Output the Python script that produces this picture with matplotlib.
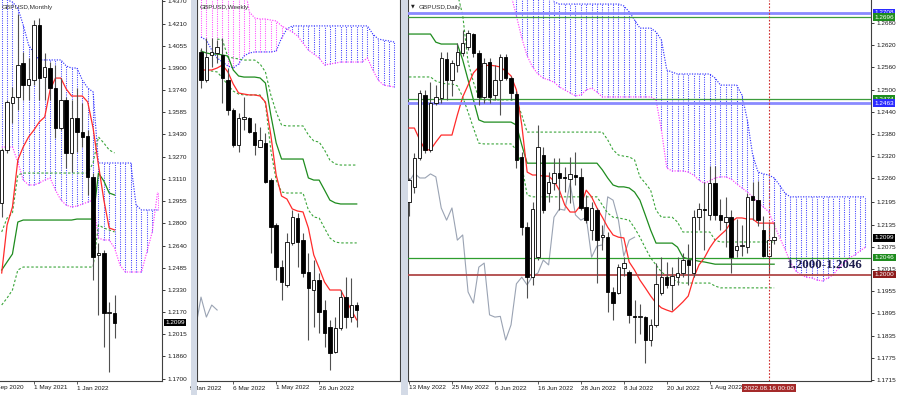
import numpy as np
import matplotlib
matplotlib.use("Agg")
import matplotlib.pyplot as plt
import matplotlib.transforms as mtransforms
from matplotlib.patches import Rectangle

plt.rcParams['font.family'] = ['Liberation Sans', 'DejaVu Sans']
nan = float('nan')

# ================= MONTHLY (first bar = Nov 2020) =================
mon_open  = [1.2943, 1.3318, 1.3650, 1.3692, 1.3932, 1.3777, 1.3812, 1.4201, 1.3834, 1.3897, 1.3756,
             1.3473, 1.3671, 1.3297, 1.3544, 1.3445, 1.3417, 1.3127, 1.2576, 1.2590, 1.2166, 1.2166]
mon_high  = [1.3330, 1.3671, 1.3763, 1.4280, 1.4010, 1.3968, 1.4236, 1.4250, 1.4003, 1.3940, 1.3918,
             1.3826, 1.3692, 1.3671, 1.3756, 1.3650, 1.3459, 1.3155, 1.2661, 1.2611, 1.2244, 1.2293]
mon_low   = [1.2845, 1.3297, 1.3508, 1.3600, 1.3671, 1.3671, 1.3777, 1.3671, 1.3671, 1.3671, 1.3403,
             1.3459, 1.3191, 1.3162, 1.3304, 1.3339, 1.3000, 1.2399, 1.2152, 1.1926, 1.1749, 1.1990]
mon_close = [1.3318, 1.3657, 1.3692, 1.3918, 1.3777, 1.3819, 1.4201, 1.3826, 1.3904, 1.3756, 1.3473,
             1.3671, 1.3297, 1.3544, 1.3445, 1.3410, 1.3127, 1.2562, 1.2590, 1.2166, 1.2170, 1.2099]
mon_tenkan = [1.2449, 1.2788, 1.2915, 1.3247, 1.3339, 1.3410, 1.3459, 1.3516, 1.3551, 1.3742, 1.3826,
              1.3826, 1.3749, 1.3699, 1.3699, 1.3699, 1.3657, 1.3473, 1.3212, 1.2965, 1.2767, 1.2753]
mon_kijun = [1.2470, 1.2527, 1.2583, 1.2809, 1.2823, 1.2823, 1.2823, 1.2823, 1.2823, 1.2823, 1.2823,
             1.2823, 1.2823, 1.2823, 1.2830, 1.2830, 1.2830, 1.2830, 1.3155, 1.3099, 1.3014, 1.3000]
mon_dash_up = [1.2739, 1.2837, 1.2873, 1.3141] + [1.3155] * 13 + [1.3226, 1.3410, 1.3367, 1.3318, 1.3297]
mon_dash_lo = [1.2223, 1.2272, 1.2329, 1.2470] + [1.2491] * 14 + [1.2788, 1.2767, 1.2753, 1.2739]
mon_span_a = ([1.4392, 1.4378, 1.4363, 1.4321, 1.4201, 1.4060, 1.4003, 1.3954, 1.3954, 1.3954, 1.3954,
               1.3954, 1.3911, 1.3897, 1.3897, 1.3812, 1.3756, 1.3728] + [1.3226] * 7 + [1.2929] + [1.2894] * 4)
mon_span_b = [1.3339, 1.3339, 1.3339, 1.3233, 1.3106, 1.3071, 1.3071, 1.3085, 1.3106, 1.3120, 1.3035,
              1.2965, 1.2929, 1.2915, 1.2922, 1.2936, 1.2950, 1.2965, 1.2696, 1.2682, 1.2682, 1.2625,
              1.2505, 1.2456, 1.2456, 1.2456, 1.2456, 1.2597, 1.2739, 1.3021]
mon_yticks = [1.4370, 1.4210, 1.4055, 1.3900, 1.3740, 1.3585, 1.3430, 1.3270, 1.3110, 1.2955,
              1.2800, 1.2640, 1.2485, 1.2330, 1.2170, 1.2015, 1.1860, 1.1700]
mon_xlabels = ['1 Sep 2020', '1 May 2021', '1 Jan 2022']
mon_xlabel_pos = [-2, 6, 14]

# ================= WEEKLY (first bar = week of 23 Jan 2022) =================
wk_open  = [1.3557, 1.3398, 1.3540, 1.3551, 1.3540, 1.3398, 1.3229, 1.3031, 1.3178, 1.3184, 1.3105,
            1.3020, 1.3042, 1.2833, 1.2579, 1.2342, 1.2240, 1.2477, 1.2619, 1.2494, 1.2314, 1.2212,
            1.2268, 1.2099, 1.2003, 1.1862, 1.1997, 1.2172, 1.2059, 1.2127]
wk_high  = [1.3579, 1.3636, 1.3636, 1.3624, 1.3636, 1.3466, 1.3240, 1.3212, 1.3302, 1.3190, 1.3156,
            1.3133, 1.3099, 1.2845, 1.2590, 1.2381, 1.2534, 1.2664, 1.2647, 1.2534, 1.2421, 1.2381,
            1.2308, 1.2155, 1.2043, 1.2059, 1.2212, 1.2285, 1.2280, 1.2144]
wk_low   = [1.3353, 1.3387, 1.3472, 1.3494, 1.3268, 1.3201, 1.3020, 1.2992, 1.3116, 1.3099, 1.2975,
            1.3020, 1.2816, 1.2421, 1.2268, 1.2155, 1.2229, 1.2466, 1.2342, 1.2285, 1.1930, 1.2003,
            1.1969, 1.1890, 1.1760, 1.1856, 1.1986, 1.1997, 1.2031, 1.2003]
wk_close = [1.3398, 1.3528, 1.3557, 1.3585, 1.3410, 1.3229, 1.3031, 1.3184, 1.3189, 1.3105, 1.3031,
            1.3059, 1.2822, 1.2568, 1.2342, 1.2257, 1.2483, 1.2624, 1.2483, 1.2308, 1.2223, 1.2268,
            1.2088, 1.1969, 1.1856, 1.1997, 1.2172, 1.2059, 1.2127, 1.2099]
wk_tenkan = [1.3455, 1.3455, 1.3455, 1.3466, 1.3483, 1.3444, 1.3376, 1.3325, 1.3319, 1.3314, 1.3314,
             1.3308, 1.3274, 1.3088, 1.2862, 1.2743, 1.2726, 1.2670, 1.2658, 1.2653, 1.2562, 1.2410,
             1.2336, 1.2257, 1.2212, 1.2212, 1.2212, 1.2155, 1.2099, 1.2043]
wk_kijun = [1.3562, 1.3551, 1.3545, 1.3545, 1.3540, 1.3534, 1.3455, 1.3421, 1.3415, 1.3415, 1.3415,
            1.3410, 1.3381, 1.3201, 1.3043, 1.2952, 1.2952, 1.2952, 1.2952, 1.2952, 1.2845, 1.2833,
            1.2833, 1.2777, 1.2720, 1.2704, 1.2698, 1.2698, 1.2698, 1.2698]
wk_dash_up = [nan, nan, nan, 1.3630, 1.3624, 1.3528, 1.3523, 1.3517, 1.3511, 1.3511, 1.3511, 1.3489,
              1.3444, 1.3314, 1.3218, 1.3144, 1.3139, 1.3139, 1.3139, 1.3139, 1.3088, 1.3054, 1.3048,
              1.3003, 1.2946, 1.2924, 1.2918, 1.2918, 1.2918, 1.2918]
wk_dash_lo = [nan, 1.3449, 1.3449, 1.3444, 1.3410, 1.3370, 1.3336, 1.3319, 1.3314, 1.3314, 1.3314,
              1.3314, 1.3268, 1.3003, 1.2833, 1.2766, 1.2760, 1.2760, 1.2760, 1.2760, 1.2664, 1.2624,
              1.2619, 1.2562, 1.2506, 1.2483, 1.2478, 1.2478, 1.2478, 1.2478]
wk_span_a = ([1.3641, 1.3624, 1.3568, 1.3523, 1.3500, 1.3478, 1.3466, 1.3489, 1.3534, 1.3551, 1.3557,
              1.3557, 1.3557, 1.3557, 1.3562, 1.3636, 1.3687, 1.3704] + [1.3704] * 14
             + [1.3658, 1.3630, 1.3624, 1.3619, 1.3613])
wk_span_b = ([1.3950] * 9 + [1.3783, 1.3749, 1.3743, 1.3743, 1.3737, 1.3732, 1.3704, 1.3687, 1.3670,
              1.3647, 1.3607, 1.3568, 1.3545, 1.3523, 1.3483, 1.3489, 1.3494] + [1.3500] * 5
             + [1.3523, 1.3455, 1.3398, 1.3370, 1.3364, 1.3359])
wk_xlabels = ['9 Jan 2022', '6 Mar 2022', '1 May 2022', '26 Jun 2022']
wk_xlabel_pos = [-2, 6, 14, 22]

# ================= DAILY (first bar = 13 May 2022) =================
d_open  = [1.2196, 1.2237, 1.2315, 1.2485, 1.2337, 1.2464, 1.2477, 1.2583, 1.2526, 1.2566, 1.2599,
           1.2615, 1.2650, 1.2599, 1.2480, 1.2575, 1.2485, 1.2526, 1.2588, 1.2531, 1.2488, 1.2318,
           1.2128, 1.1993, 1.2047, 1.2323, 1.2220, 1.2247, 1.2274, 1.2263, 1.2258, 1.2269, 1.2264,
           1.2182, 1.2120, 1.2174, 1.2101, 1.2101, 1.1953, 1.1950, 1.2018, 1.2007, 1.1887, 1.1885,
           1.1885, 1.1823, 1.1864, 1.1950, 1.1993, 1.1972, 1.1993, 1.2004, 1.2039, 1.2004, 1.2155,
           1.2177, 1.2161, 1.2247, 1.2161, 1.2142, 1.2155, 1.2066, 1.2077, 1.2074, 1.2212, 1.2201,
           1.2120, 1.2050, 1.2093]
d_high  = [1.2262, 1.2328, 1.2499, 1.2499, 1.2520, 1.2512, 1.2601, 1.2601, 1.2580, 1.2625, 1.2661,
           1.2661, 1.2653, 1.2607, 1.2585, 1.2585, 1.2566, 1.2596, 1.2596, 1.2537, 1.2496, 1.2331,
           1.2142, 1.2196, 1.2404, 1.2345, 1.2277, 1.2315, 1.2315, 1.2290, 1.2318, 1.2331, 1.2288,
           1.2215, 1.2196, 1.2180, 1.2134, 1.2115, 1.1966, 1.2028, 1.2047, 1.2012, 1.1931, 1.1920,
           1.1888, 1.1880, 1.2031, 1.2047, 1.2034, 1.2020, 1.2047, 1.2058, 1.2082, 1.2174, 1.2193,
           1.2250, 1.2293, 1.2293, 1.2204, 1.2210, 1.2174, 1.2150, 1.2134, 1.2220, 1.2250, 1.2252,
           1.2158, 1.2142, 1.2142]
d_low   = [1.2158, 1.2220, 1.2310, 1.2328, 1.2331, 1.2458, 1.2464, 1.2472, 1.2483, 1.2547, 1.2590,
           1.2607, 1.2588, 1.2458, 1.2464, 1.2464, 1.2472, 1.2431, 1.2526, 1.2472, 1.2288, 1.2107,
           1.1937, 1.1972, 1.2039, 1.2166, 1.2196, 1.2228, 1.2174, 1.2223, 1.2193, 1.2242, 1.2174,
           1.2139, 1.2093, 1.1977, 1.2066, 1.1899, 1.1877, 1.1947, 1.1996, 1.1869, 1.1815, 1.1839,
           1.1761, 1.1807, 1.1858, 1.1945, 1.1964, 1.1904, 1.1972, 1.1993, 1.1972, 1.1993, 1.2120,
           1.2066, 1.2147, 1.2147, 1.2120, 1.2074, 1.2004, 1.2047, 1.2050, 1.2058, 1.2147, 1.2130,
           1.2047, 1.2004, 1.2082]
d_close = [1.2256, 1.2315, 1.2491, 1.2337, 1.2464, 1.2480, 1.2585, 1.2526, 1.2572, 1.2601, 1.2625,
           1.2653, 1.2599, 1.2480, 1.2572, 1.2480, 1.2526, 1.2588, 1.2531, 1.2491, 1.2310, 1.2128,
           1.1993, 1.2177, 1.2345, 1.2174, 1.2250, 1.2274, 1.2261, 1.2261, 1.2272, 1.2264, 1.2180,
           1.2147, 1.2180, 1.2093, 1.2107, 1.1953, 1.1923, 1.2020, 1.2031, 1.1891, 1.1885, 1.1887,
           1.1823, 1.1864, 1.1975, 1.1993, 1.1972, 1.1996, 1.2004, 1.2039, 1.2026, 1.2155, 1.2177,
           1.2174, 1.2247, 1.2161, 1.2147, 1.2155, 1.2047, 1.2077, 1.2080, 1.2210, 1.2201, 1.2147,
           1.2050, 1.2093, 1.2101]
d_tenkan = [1.2396, 1.2396, 1.2364, 1.2337, 1.2337, 1.2358, 1.2377, 1.2377, 1.2377, 1.2431,
            1.2480, 1.2512, 1.2545, 1.2561, 1.2564, 1.2566, 1.2564, 1.2561, 1.2550, 1.2537,
            1.2499, 1.2404, 1.2277, 1.2269, 1.2269, 1.2266, 1.2266, 1.2253, 1.2228, 1.2188,
            1.2169, 1.2169, 1.2188, 1.2228, 1.2210, 1.2180, 1.2155, 1.2128, 1.2107, 1.2101,
            1.2099, 1.2034, 1.2012, 1.1985, 1.1964, 1.1942, 1.1923, 1.1910, 1.1904, 1.1899,
            1.1912, 1.1926, 1.1942, 1.1991, 1.2026, 1.2045, 1.2072, 1.2093, 1.2107, 1.2120,
            1.2142, 1.2153, 1.2153, 1.2150, 1.2150, 1.2139, 1.2139, 1.2139, 1.2139]
d_kijun = ([1.2650] * 5 + [1.2628] + [1.2623] * 4 + [1.2580, 1.2526, 1.2472, 1.2418] + [1.2412] * 6
           + [1.2404, 1.2350, 1.2301] + [1.2301] * 13
           + [1.2283, 1.2261, 1.2242, 1.2237, 1.2237, 1.2234, 1.2223, 1.2201, 1.2161, 1.2120, 1.2085]
           + [1.2085] * 3 + [1.2074, 1.2047, 1.2042, 1.2039, 1.2036, 1.2034, 1.2031] + [1.2028] * 12)
d_dash_lo = ([1.2534] * 5 + [1.2523, 1.2518, 1.2515, 1.2515, 1.2510, 1.2480, 1.2439, 1.2396, 1.2355]
             + [1.2353] * 6 + [1.2337, 1.2296, 1.2215] + [1.2210] * 13
             + [1.2188, 1.2166, 1.2155, 1.2153, 1.2150, 1.2147, 1.2126, 1.2101, 1.2072, 1.2045,
                1.2026, 1.2007, 1.1996, 1.1988, 1.1980] + [1.1977] * 6 + [1.1969] + [1.1964] * 11)
d_dash_up = ([nan] * 9 + [1.2760, 1.2701, 1.2574, 1.2520, 1.2477] + [1.2472] * 7 + [1.2431, 1.2385]
             + [1.2385] * 14 + [1.2364, 1.2337, 1.2323, 1.2320, 1.2318, 1.2310, 1.2264, 1.2247,
                                1.2228, 1.2174] + [1.2155] * 3 + [1.2142] + [1.2115] * 6 + [1.2093]
             + [1.2088] * 11)
d_span_a = ([1.2790] * 27 + [1.2737] + [1.2731] * 12 + [1.2726, 1.2710, 1.2688] + [1.2666] * 3
            + [1.2656, 1.2634, 1.2553, 1.2547] + [1.2542] * 7 + [1.2531] + [1.2512] * 4
            + [1.2485, 1.2418, 1.2323, 1.2277, 1.2272, 1.2269, 1.2261, 1.2242, 1.2220] + [1.2210] * 15)
d_span_b = ([1.2780] * 19 + [1.2756, 1.2699, 1.2639, 1.2591, 1.2561, 1.2542, 1.2531, 1.2526, 1.2520,
                             1.2507, 1.2499, 1.2491, 1.2483, 1.2485, 1.2499, 1.2504, 1.2493]
            + [1.2480] * 10 + [1.2472, 1.2391, 1.2288, 1.2280, 1.2280, 1.2280, 1.2277, 1.2269, 1.2255,
                               1.2247, 1.2253, 1.2261, 1.2264, 1.2264, 1.2258, 1.2245, 1.2234, 1.2223,
                               1.2210, 1.2193, 1.2183, 1.2169, 1.2134, 1.2101, 1.2069, 1.2034, 1.2010,
                               1.1999, 1.1993, 1.1991, 1.1985, 1.1983, 1.1991, 1.1999, 1.2018, 1.2031,
                               1.2045, 1.2053, 1.2064, 1.2074])
d_yticks = [1.2680, 1.2620, 1.2560, 1.2500, 1.2440, 1.2380, 1.2320, 1.2260, 1.2195, 1.2135, 1.2075,
            1.2015, 1.1955, 1.1895, 1.1835, 1.1775, 1.1715]
d_xlabels = ['13 May 2022', '25 May 2022', '6 Jun 2022', '16 Jun 2022', '28 Jun 2022', '8 Jul 2022',
             '20 Jul 2022', '1 Aug 2022']
d_xlabel_pos = [0, 8, 16, 24, 32, 40, 48, 56]
d_cursor_pos = 67
d_cursor_label = '2022.08.16 00:00'
level_prices = [1.2708, 1.2696, 1.2474, 1.2463, 1.2046, 1.2000]
level_colors = ['#8a8aff', '#3c9c3c', '#3c9c3c', '#8a8aff', '#2e9e2e', '#b04848']
level_widths = [2.0, 0.9, 0.9, 2.0, 0.9, 1.3]
tag_prices = [1.2708, 1.2696, 1.2474, 1.2463, 1.2099, 1.2046, 1.2000]
tag_colors = ['#2b2bff', '#1e8c1e', '#1e8c1e', '#2b2bff', '#000000', '#1e8c1e', '#8e1c1c']
zone_text = '1.2000-1.2046'

# ================= styles =================
C_TENKAN = '#ff2b2b'
C_KIJUN = '#1e8c1e'
C_DASH = '#3aa53a'
C_SPAN_A = '#3434ff'
C_SPAN_B = '#ff3cff'
C_UP = '#4040ff'
C_DN = '#ff4cff'
FS = 4.6

FW, FH, PB = 900.0, 395.0, 381.0
fig = plt.figure(figsize=(9.0, 3.95), dpi=100)
fig.patch.set_facecolor('white')


def rect(x0, x1):
    return [x0 / FW, 1 - PB / FH, (x1 - x0) / FW, PB / FH]


axM = fig.add_axes(rect(0, 162))
axW = fig.add_axes(rect(197, 400))
axD = fig.add_axes(rect(408, 871))


def candles(ax, o, h, l, c, w=0.64):
    o, h, l, c = map(np.asarray, (o, h, l, c))
    x = np.arange(len(o))
    ax.vlines(x, l, h, colors='#505050', lw=0.8, zorder=4)
    up = c >= o
    bottom = np.minimum(o, c)
    height = np.maximum(np.abs(c - o), 1e-6)
    ax.bar(x[up], height[up], w, bottom[up], facecolor='white', edgecolor='black', lw=0.6, zorder=5)
    ax.bar(x[~up], height[~up], w, bottom[~up], facecolor='black', edgecolor='black', lw=0.6, zorder=5)


def cloud(ax, a, b):
    a = np.asarray(a)
    b = np.asarray(b)
    x = np.arange(len(a))
    cols = [C_UP if aa >= bb else C_DN for aa, bb in zip(a, b)]
    ax.vlines(x, np.minimum(a, b), np.maximum(a, b), colors=cols, linestyles=(0, (1.0, 1.2)),
              lw=0.75, zorder=1)
    ax.plot(x, a, color=C_SPAN_A, ls=(0, (1.0, 1.2)), lw=0.85, zorder=1.5)
    ax.plot(x, b, color=C_SPAN_B, ls=(0, (1.0, 1.2)), lw=0.85, zorder=1.5)


def ichi_lines(ax, tenkan, kijun, dash_up, dash_lo):
    n = len(tenkan)
    x = np.arange(n)
    ax.plot(x, dash_up, color=C_DASH, ls=(0, (2.2, 1.8)), lw=0.8, zorder=3)
    ax.plot(x, dash_lo, color=C_DASH, ls=(0, (2.2, 1.8)), lw=0.8, zorder=3)
    ax.plot(x, kijun, color=C_KIJUN, lw=0.9, zorder=3)
    ax.plot(x, tenkan, color=C_TENKAN, lw=0.9, zorder=3)


def chikou(ax, close, shift=26):
    c = np.asarray(close)
    x = np.arange(len(c)) - shift
    keep = x >= -1
    ax.plot(x[keep], c[keep], color='#9aa3b3', lw=0.8, zorder=2)


def xlabels(ax, pos, labels):
    tr = mtransforms.blended_transform_factory(ax.transData, ax.transAxes)
    for p, t in zip(pos, labels):
        ax.text(p, -7 / PB, t, transform=tr, ha='left', va='center', fontsize=FS, color='#1a1a1a',
                clip_on=False)
    lo, hi = ax.get_xlim()
    ax.set_xticks([p for p in pos if lo <= p <= hi])
    ax.set_xticklabels([])
    ax.tick_params(axis='x', length=2, width=0.6, direction='out', colors='#404040')


def price_tag(ax, price, text, fc, xoff):
    tr = mtransforms.blended_transform_factory(ax.transAxes, ax.transData)
    ax.text(xoff, price, text, transform=tr, ha='left', va='center', fontsize=FS, color='white',
            bbox=dict(boxstyle='square,pad=0.2', fc=fc, ec='none'), zorder=12, clip_on=False)


def frame(ax, left=True):
    ax.spines['top'].set_visible(False)
    ax.spines['left'].set_visible(left)
    for s in ['left', 'right', 'bottom']:
        ax.spines[s].set_color('#404040')
        ax.spines[s].set_linewidth(0.8)


# ---------- Monthly ----------
cloud(axM, mon_span_a, mon_span_b)
ichi_lines(axM, mon_tenkan, mon_kijun, mon_dash_up, mon_dash_lo)
candles(axM, mon_open, mon_high, mon_low, mon_close)
axM.set_xlim(-0.316, 29.82)
axM.set_ylim(1.16859, 1.43775)
axM.yaxis.tick_right()
axM.set_yticks(mon_yticks)
axM.set_yticklabels(['%.4f' % v for v in mon_yticks])
axM.tick_params(axis='y', length=2, width=0.6, pad=2, labelsize=FS, colors='#1a1a1a')
xlabels(axM, mon_xlabel_pos, mon_xlabels)
frame(axM, left=False)
price_tag(axM, mon_close[-1], '%.4f' % mon_close[-1], '#000000', 1.022)

# ---------- Weekly ----------
cloud(axW, wk_span_a, wk_span_b)
chikou(axW, wk_close)
ichi_lines(axW, wk_tenkan, wk_kijun, wk_dash_up, wk_dash_lo)
candles(axW, wk_open, wk_high, wk_low, wk_close)
axW.set_xlim(-0.745, 37.06)
axW.set_ylim(1.16979, 1.38504)
axW.set_yticks([])
xlabels(axW, wk_xlabel_pos, wk_xlabels)
frame(axW)

# ---------- Daily ----------
cloud(axD, d_span_a, d_span_b)
chikou(axD, d_close)
ichi_lines(axD, d_tenkan, d_kijun, d_dash_up, d_dash_lo)
for p, c, w in zip(level_prices, level_colors, level_widths):
    axD.axhline(p, color=c, lw=w, zorder=3.5)
candles(axD, d_open, d_high, d_low, d_close)
axD.axvline(d_cursor_pos, color='#d03030', ls=(0, (1.5, 1.5)), lw=0.8, zorder=6)
axD.set_xlim(-0.186, 86.03)
axD.set_ylim(1.17123, 1.2742)
axD.yaxis.tick_right()
axD.set_yticks(d_yticks)
axD.set_yticklabels(['%.4f' % v for v in d_yticks])
axD.tick_params(axis='y', length=2, width=0.6, pad=2, labelsize=FS, colors='#1a1a1a')
xlabels(axD, d_xlabel_pos, d_xlabels)
frame(axD)
for p, c in zip(tag_prices, tag_colors):
    price_tag(axD, p, '%.4f' % p, c, 1.0075)
trD = mtransforms.blended_transform_factory(axD.transData, axD.transAxes)
axD.text(d_cursor_pos, -7 / PB, d_cursor_label, transform=trD, ha='center', va='center', fontsize=FS,
         color='white', bbox=dict(boxstyle='square,pad=0.3', fc='#a52a2a', ec='none'), zorder=12,
         clip_on=False)
axD.text(70.4, 1.2025, zone_text, fontfamily=['Liberation Serif', 'DejaVu Serif'], fontweight='bold',
         fontsize=9.3, color='#1c1c4c', ha='left', va='center', zorder=9)

# ---------- window separators and titles ----------
for x0, x1 in [(191, 197), (401, 408)]:
    fig.patches.append(Rectangle((x0 / FW, 0), (x1 - x0) / FW, 1, transform=fig.transFigure,
                                 fc='#d3dae6', ec='none', zorder=10))
fig.text(2 / FW, 1 - 7 / FH, 'GBPUSD,Monthly', fontsize=FS, color='#303030', va='center', zorder=11)
fig.text(200 / FW, 1 - 7 / FH, 'GBPUSD,Weekly', fontsize=FS, color='#303030', va='center', zorder=11)
fig.text(411 / FW, 1 - 6 / FH, '\u25bc', fontsize=3.5, color='#202020', va='center',
         family=['DejaVu Sans'], zorder=11)
fig.text(419 / FW, 1 - 7 / FH, 'GBPUSD,Daily', fontsize=FS, color='#303030', va='center', zorder=11)

fig.savefig('out.png', dpi=100, facecolor='white')
